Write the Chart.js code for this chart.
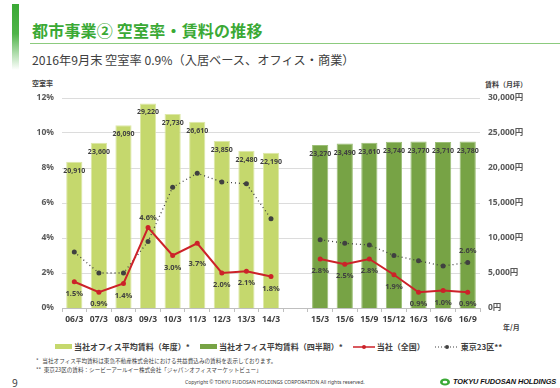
<!DOCTYPE html>
<html lang="ja">
<head>
<meta charset="utf-8">
<script src="https://cdn.jsdelivr.net/npm/chart.js@4"></script>
<style>
  html, body { margin: 0; padding: 0; background: #fff; }
  body { width: 560px; height: 388px; position: relative; overflow: hidden;
         font-family: "Noto Sans", "Noto Sans CJK JP", sans-serif; color: #404040; }
  .abs { position: absolute; white-space: nowrap; }
  #sidebar { left: 12px; top: 4px; width: 7px; height: 66px;
             background: linear-gradient(#3aa935 0%, #4fb449 45%, #ffffff 100%); }
  #title { left: 32px; top: 18px; font: bold 16px "Noto Sans CJK JP", sans-serif; color: #3aa935; letter-spacing: 0.2px; }
  #rule { left: 30px; top: 43px; width: 530px; height: 1px; background: #8ccb7e; }
  #subtitle { left: 32px; top: 51px; font: 12.2px "Noto Sans CJK JP", sans-serif; color: #404040; }
  .axt { font: bold 7px "Noto Sans CJK JP", sans-serif; color: #404040; }
  #chartBox { left: 0; top: 75px; width: 560px; height: 257px; }
  #legend { left: 55px; top: 341px; font: bold 8px "Noto Sans CJK JP", sans-serif; color: #404040; display: flex; align-items: center; }
  #legend span.sw { display: inline-block; width: 17px; height: 5px; margin-right: 2px; }
  #legend .item { display: flex; align-items: center; margin-right: 10px; }
  .note { font: 5.6px "Noto Sans CJK JP", sans-serif; color: #404040; }
</style>
</head>
<body>
<div class="abs" id="sidebar"></div>
<div class="abs" id="title">都市事業② 空室率・賃料の推移</div>
<div class="abs" id="rule"></div>
<div class="abs" id="subtitle">2016年9月末 空室率 0.9%（入居ベース、オフィス・商業）</div>
<div class="abs axt" style="left:32px; top:78px;">空室率</div>
<div class="abs axt" style="left:485px; top:79px;">賃料（月坪）</div>
<div class="abs axt" style="left:503px; top:322px;">年/月</div>
<div class="abs" id="chartBox"><canvas id="chart"></canvas></div>
<div class="abs" id="legend">
  <div class="item"><span class="sw" style="background:#c5d86d"></span>当社オフィス平均賃料（年度）*</div>
  <div class="item"><span class="sw" style="background:#77a345"></span>当社オフィス平均賃料（四半期）*</div>
  <div class="item"><svg width="22" height="6" style="margin-right:2px"><line x1="0" y1="3" x2="22" y2="3" stroke="#cc2229" stroke-width="1.5"/><circle cx="11" cy="3" r="2" fill="#cc2229"/></svg>当社（全国）</div>
  <div class="item"><svg width="24" height="6" style="margin-right:2px"><line x1="0" y1="3" x2="24" y2="3" stroke="#404040" stroke-width="1.2" stroke-dasharray="1,2"/><circle cx="12" cy="3" r="2" fill="#404040"/></svg>東京23区**</div>
</div>
<div class="abs note" style="left:36px; top:357px;">*&nbsp;&nbsp;&nbsp;当社オフィス平均賃料は東急不動産株式会社における共益費込みの賃料を表示しております。</div>
<div class="abs note" style="left:36px; top:366px;">**&nbsp;&nbsp;東京23区の賃料：シービーアールイー株式会社「ジャパンオフィスマーケットビュー」</div>
<div class="abs" style="left:12px; top:376px; font: 10px 'Noto Sans', sans-serif; color:#404040;">9</div>
<div class="abs" style="left:185px; top:379px; font: 5px 'Noto Sans', sans-serif; color:#404040;">Copyright © TOKYU FUDOSAN HOLDINGS CORPORATION All rights reserved.</div>
<div class="abs" style="left:440px; top:377px; display:flex; align-items:center;">
  <svg width="10" height="8" style="margin-right:3px"><ellipse cx="5" cy="4" rx="5" ry="3.6" fill="#3aa935"/><ellipse cx="5" cy="4.2" rx="2.4" ry="1.4" fill="#fff"/></svg>
  <span style="font: italic bold 7.4px 'Liberation Sans', sans-serif; color:#111; letter-spacing:-0.1px;">TOKYU FUDOSAN HOLDINGS</span>
</div>

<script>
// Categories: fiscal-year points, one empty slot, then quarterly points
const periods = ['06/3', '07/3', '08/3', '09/3', '10/3', '11/3', '12/3', '13/3', '14/3', '',
                 '15/3', '15/6', '15/9', '15/12', '16/3', '16/6', '16/9'];

// Average office rent (yen / tsubo / month)
const rentYearly = [20910, 23600, 26090, 29220, 27730, 26610, 23850, 22480, 22190,
                    null, null, null, null, null, null, null, null];
const rentQuarterly = [null, null, null, null, null, null, null, null, null, null,
                       23270, 23490, 23610, 23740, 23770, 23710, 23780];

// Vacancy rate (%)
const vacancyCompany = [1.5, 0.9, 1.4, 4.6, 3.0, 3.7, 2.0, 2.1, 1.8, null,
                        2.8, 2.5, 2.8, 1.9, 0.9, 1.0, 0.9];
const vacancyTokyo23 = [3.2, 2.0, 2.0, 3.8, 6.9, 7.7, 7.2, 7.1, 5.1, null,
                        3.9, 3.7, 3.6, 3.0, 2.7, 2.4, 2.6];

const NUM_FONT = '"Noto Sans", "DejaVu Sans", sans-serif';

// draws the value labels on bars and lines
const valueLabels = {
  id: 'valueLabels',
  afterDatasetsDraw(chart) {
    const ctx = chart.ctx;
    ctx.save();
    ctx.textAlign = 'center';
    ctx.textBaseline = 'middle';
    ctx.fillStyle = '#404040';

    ctx.font = 'bold 7px ' + NUM_FONT;
    [0, 1].forEach(di => {
      chart.getDatasetMeta(di).data.forEach((bar, i) => {
        const v = chart.data.datasets[di].data[i];
        if (v == null) return;
        ctx.fillText(v.toLocaleString('en-US'), bar.x, bar.y + 9);
      });
    });

    ctx.font = 'bold 7.5px ' + NUM_FONT;
    const shift = { 3: -10, 5: 21 };
    chart.getDatasetMeta(2).data.forEach((pt, i) => {
      const v = chart.data.datasets[2].data[i];
      if (v == null) return;
      const dy = shift[i] !== undefined ? shift[i] : 12;
      ctx.fillText(v.toFixed(1) + '%', pt.x, pt.y + dy);
    });

    // Tokyo 23 wards: only latest value labelled
    const tk = chart.getDatasetMeta(3).data;
    const last = tk.length - 1;
    ctx.fillText(chart.data.datasets[3].data[last].toFixed(1) + '%', tk[last].x, tk[last].y - 12);
    ctx.restore();
  }
};

new Chart(document.getElementById('chart'), {
  type: 'bar',
  data: {
    labels: periods,
    datasets: [
      {
        label: '当社オフィス平均賃料（年度）*',
        data: rentYearly,
        yAxisID: 'y1',
        backgroundColor: '#c5d86d',
        borderColor: '#dde8a8',
        borderWidth: 1,
        grouped: false,
        barPercentage: 0.66,
        categoryPercentage: 1,
        order: 3
      },
      {
        label: '当社オフィス平均賃料（四半期）*',
        data: rentQuarterly,
        yAxisID: 'y1',
        backgroundColor: '#77a345',
        borderColor: '#9cbf77',
        borderWidth: 1,
        grouped: false,
        barPercentage: 0.66,
        categoryPercentage: 1,
        order: 2
      },
      {
        type: 'line',
        label: '当社（全国）',
        data: vacancyCompany,
        yAxisID: 'y',
        borderColor: '#cc2229',
        backgroundColor: '#cc2229',
        borderWidth: 2,
        pointRadius: 2.5,
        pointBorderWidth: 0,
        spanGaps: false,
        order: 0
      },
      {
        type: 'line',
        label: '東京23区**',
        data: vacancyTokyo23,
        yAxisID: 'y',
        borderColor: '#404040',
        backgroundColor: '#404040',
        borderWidth: 1.3,
        borderDash: [1, 3],
        pointRadius: 2.5,
        pointBorderWidth: 0,
        spanGaps: false,
        order: 1
      }
    ]
  },
  options: {
    responsive: true,
    maintainAspectRatio: false,
    animation: false,
    layout: { padding: { top: 23, left: 0, right: 0, bottom: 0 } },
    plugins: {
      legend: { display: false },
      tooltip: { enabled: false }
    },
    scales: {
      x: {
        grid: { offset: true, drawOnChartArea: false, tickLength: 4, color: '#bfbfbf' },
        border: { color: '#bfbfbf' },
        ticks: {
          autoSkip: false, maxRotation: 0, padding: 2, color: '#404040',
          font: { family: NUM_FONT, size: 8.5, weight: 'bold' }
        },
        afterFit(scale) { scale.height = 24; }
      },
      y: {
        position: 'left',
        min: 0, max: 12,
        ticks: {
          stepSize: 2, padding: 8, color: '#595959',
          font: { family: NUM_FONT, size: 8.5, weight: 'bold' },
          callback: v => v + '%'
        },
        grid: {
          drawTicks: false,
          color: ctx => ctx.tick.value === 0 ? '#bfbfbf' : '#dcdcdc'
        },
        border: { display: false },
        afterFit(scale) { scale.width = 62; }
      },
      y1: {
        position: 'right',
        min: 0, max: 30000,
        ticks: {
          stepSize: 5000, padding: 8, color: '#595959',
          font: { family: '"Noto Sans", "Noto Sans CJK JP", sans-serif', size: 8.5, weight: 'bold' },
          callback: v => v.toLocaleString('en-US') + '円'
        },
        grid: { display: false, drawTicks: false },
        border: { display: false },
        afterFit(scale) { scale.width = 80; }
      }
    }
  },
  plugins: [valueLabels]
});
</script>
</body>
</html>
